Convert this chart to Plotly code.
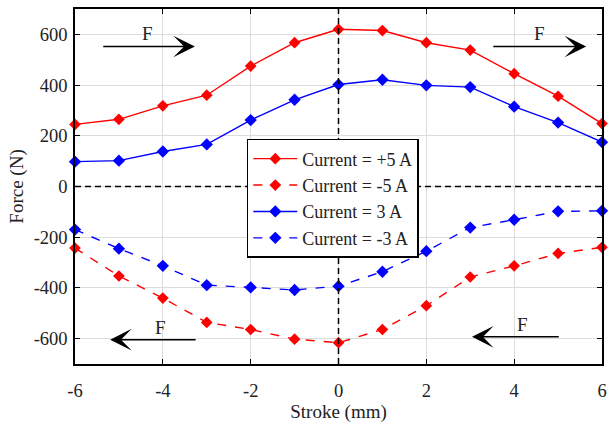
import plotly.graph_objects as go

# Stroke positions (mm)
stroke = [-6, -5, -4, -3, -2, -1, 0, 1, 2, 3, 4, 5, 6]

# Force (N) for each excitation current
force_pos5 = [245, 265, 318, 360, 475, 567, 620, 615, 567, 538, 445, 356, 248]
force_neg5 = [-243, -353, -440, -536, -564, -602, -616, -564, -470, -357, -313, -264, -240]
force_pos3 = [98, 102, 138, 166, 262, 342, 402, 421, 399, 392, 315, 252, 175]
force_neg3 = [-170, -245, -313, -389, -398, -408, -393, -336, -255, -162, -131, -98, -96]

series_names = ["Current = +5 A", "Current = -5 A", "Current = 3 A", "Current = -3 A"]

x_ticks = [-6, -4, -2, 0, 2, 4, 6]
x_tick_text = ["-6", "-4", "-2", "0", "2", "4", "6"]
y_ticks = [-600, -400, -200, 0, 200, 400, 600]
y_tick_text = ["-600", "-400", "-200", "0", "200", "400", "600"]

FONT = "Liberation Serif, Times New Roman, serif"
TEXT = "#222222"
RED = "#ff0000"
BLUE = "#0000ff"

fig = go.Figure()

styles = [
    (force_pos5, RED, "solid", 9),
    (force_neg5, RED, "dash", 9),
    (force_pos3, BLUE, "solid", 9.5),
    (force_neg3, BLUE, "dash", 9.5),
]
for name, (vals, color, dash, msize) in zip(series_names, styles):
    fig.add_trace(go.Scatter(
        x=stroke, y=vals, name=name, mode="lines+markers",
        line=dict(color=color, width=1.4, dash=dash),
        marker=dict(symbol="diamond", size=msize, color=color),
        cliponaxis=False,
    ))

# Dashed reference lines through the origin
ref_line = dict(color="black", width=1.5, dash="6px,4px")
fig.add_shape(type="line", x0=-6, x1=6, y0=0, y1=0, xref="x", yref="y",
              line=ref_line, layer="above")
fig.add_shape(type="line", x0=0, x1=0, y0=-700, y1=700, xref="x", yref="y",
              line=ref_line, layer="above")

# Force direction arrows: (head x, head y, tail x, tail y, label x, label y)
arrows = [
    (-3.27, 552, -5.39, 552, -4.36, 603),
    (5.64, 552, 3.49, 552, 4.57, 603),
    (-5.2, -604, -3.22, -604, -4.06, -555),
    (3.04, -593, 5.05, -593, 4.18, -545),
]
for hx, hy, tx, ty, lx, ly in arrows:
    fig.add_annotation(x=hx, y=hy, ax=tx, ay=ty, xref="x", yref="y",
                       axref="x", ayref="y", text="", showarrow=True,
                       arrowhead=3, arrowsize=2.4, arrowwidth=1.5,
                       arrowcolor="black", standoff=0, startstandoff=0)
    fig.add_annotation(x=lx, y=ly, xref="x", yref="y", text="F",
                       showarrow=False, font=dict(family=FONT, size=19, color=TEXT))

axis_common = dict(
    showline=True, linecolor="black", linewidth=1.5, mirror="ticks",
    ticks="inside", ticklen=5, tickcolor="black", tickwidth=1,
    showgrid=True, gridcolor="#dcdcdc", gridwidth=1, zeroline=False,
    tickfont=dict(family=FONT, size=18.5, color=TEXT),
)

fig.update_xaxes(range=[-6, 6], tickvals=x_ticks, ticktext=x_tick_text,
                 title=dict(text="Stroke (mm)", font=dict(family=FONT, size=19, color=TEXT),
                            standoff=4),
                 ticklabelstandoff=9, **axis_common)
fig.update_yaxes(range=[-700, 700], tickvals=y_ticks, ticktext=y_tick_text,
                 title=dict(text="Force (N)", font=dict(family=FONT, size=19, color=TEXT),
                            standoff=5),
                 ticklabelstandoff=2, **axis_common)

fig.update_layout(
    width=615, height=425,
    margin=dict(l=75, r=13, t=7, b=53),
    plot_bgcolor="white", paper_bgcolor="white",
    legend=dict(x=0.326, y=0.634, xanchor="left", yanchor="top",
                bgcolor="white", bordercolor="black", borderwidth=1.5,
                font=dict(family=FONT, size=18, color=TEXT),
                tracegroupgap=0, itemwidth=44),
)

fig.write_html("out.html")
